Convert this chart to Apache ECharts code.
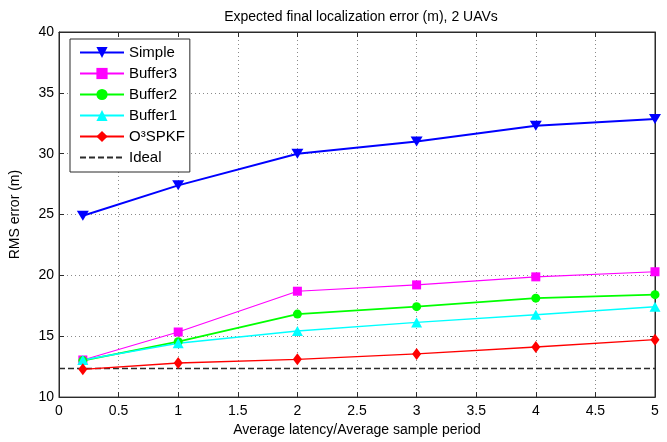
<!DOCTYPE html>
<html>
<head>
<meta charset="utf-8">
<script src="https://cdn.jsdelivr.net/npm/echarts@6/dist/echarts.min.js"></script>
<style>
  html, body { margin: 0; padding: 0; background: #fff; }
  #chart { width: 667px; height: 442px; }
</style>
</head>
<body>
<div id="chart"></div>
<script>
// Latency ratio on the x axis
const latencyRatio = [0.2, 1, 2, 3, 4, 5];

// RMS localization error (m) for each filter variant
const simpleErr  = [24.9, 27.4, 30.0, 31.0, 32.3, 32.85];
const buffer3Err = [13.05, 15.35, 18.7, 19.22, 19.88, 20.3];
const buffer2Err = [13.0, 14.55, 16.82, 17.43, 18.13, 18.42];
const buffer1Err = [13.05, 14.42, 15.43, 16.14, 16.77, 17.42];
const o3spkfErr  = [12.28, 12.8, 13.1, 13.55, 14.12, 14.72];

// Ideal reference level, drawn across the whole x range
const idealX = [0, 5];
const idealY = [12.35, 12.35];

const seriesNames = ['Simple', 'Buffer3', 'Buffer2', 'Buffer1', 'O\u00B3SPKF', 'Ideal'];

const pairs = (xs, ys) => xs.map((x, i) => [x, ys[i]]);

const FONT = 'Liberation Sans, Arial, Helvetica, sans-serif';
const AXIS_COLOR = '#2b2b2b';

const chart = echarts.init(document.getElementById('chart'), null, { renderer: 'canvas' });

function lineSeries(name, ys, color, symbol, size, width, extra) {
  return Object.assign({
    name: name,
    type: 'line',
    xAxisIndex: 0,
    yAxisIndex: 0,
    data: pairs(latencyRatio, ys),
    symbol: symbol,
    symbolSize: size,
    showSymbol: true,
    color: color,
    lineStyle: { color: color, width: width },
    itemStyle: { color: color, borderColor: color, borderWidth: 0 },
    emphasis: { disabled: true },
    z: 3
  }, extra || {});
}

const hiddenAxisPart = { show: false };

chart.setOption({
  animation: false,
  backgroundColor: '#ffffff',
  textStyle: { fontFamily: FONT },
  title: {
    text: 'Expected final localization error (m), 2 UAVs',
    left: 356,
    textAlign: 'center',
    top: 5,
    textStyle: { fontFamily: FONT, fontSize: 14, fontWeight: 'normal', color: '#000' }
  },
  grid: {
    left: 57, right: 12, top: 32, bottom: 40,
    show: true, borderColor: AXIS_COLOR, borderWidth: 1, backgroundColor: '#fff'
  },
  legend: {
    orient: 'vertical',
    left: 70, top: 39,
    padding: [6, 5, 7, 9],
    itemGap: 6,
    itemWidth: 44,
    itemHeight: 14,
    backgroundColor: '#fff',
    borderColor: AXIS_COLOR,
    borderWidth: 1,
    borderRadius: 0,
    data: seriesNames.map(n => n === 'Ideal'
      ? { name: n, itemStyle: { opacity: 0 } }
      : { name: n }),
    textStyle: { fontFamily: FONT, fontSize: 15, color: '#000' }
  },
  xAxis: [{
    type: 'value',
    min: 0, max: 5, interval: 0.5,
    name: 'Average latency/Average sample period',
    nameLocation: 'middle',
    nameGap: 23,
    nameTextStyle: { fontFamily: FONT, fontSize: 14, color: '#000' },
    axisLine: { show: true, onZero: false, lineStyle: { color: AXIS_COLOR, width: 1 } },
    axisTick: { show: true, inside: true, length: 5, lineStyle: { color: AXIS_COLOR } },
    axisLabel: { margin: 7, fontFamily: FONT, fontSize: 14, color: '#000' },
    splitLine: { show: true, lineStyle: { color: '#8a8a8a', type: [1, 3], width: 1 } }
  }, {
    type: 'value', position: 'top',
    min: 0, max: 5, interval: 0.5,
    axisLine: { show: true, onZero: false, lineStyle: { color: AXIS_COLOR, width: 1 } },
    axisTick: { show: true, inside: true, length: 5, lineStyle: { color: AXIS_COLOR } },
    axisLabel: hiddenAxisPart,
    splitLine: hiddenAxisPart
  }],
  yAxis: [{
    type: 'value',
    min: 10, max: 40, interval: 5,
    name: 'RMS error (m)',
    nameLocation: 'middle',
    nameGap: 37,
    nameTextStyle: { fontFamily: FONT, fontSize: 14, color: '#000' },
    axisLine: { show: true, onZero: false, lineStyle: { color: AXIS_COLOR, width: 1 } },
    axisTick: { show: true, inside: true, length: 5, lineStyle: { color: AXIS_COLOR } },
    axisLabel: { margin: 5, fontFamily: FONT, fontSize: 14, color: '#000' },
    splitLine: { show: true, lineStyle: { color: '#8a8a8a', type: [1, 3], width: 1 } }
  }, {
    type: 'value', position: 'right',
    min: 10, max: 40, interval: 5,
    axisLine: { show: true, onZero: false, lineStyle: { color: AXIS_COLOR, width: 1 } },
    axisTick: { show: true, inside: true, length: 5, lineStyle: { color: AXIS_COLOR } },
    axisLabel: hiddenAxisPart,
    splitLine: hiddenAxisPart
  }],
  series: [
    lineSeries(seriesNames[0], simpleErr, '#0000ff', 'triangle', [12, 10], 2, { symbolRotate: 180, z: 4 }),
    lineSeries(seriesNames[1], buffer3Err, '#ff00ff', 'rect', 9, 1.1),
    lineSeries(seriesNames[2], buffer2Err, '#00ff00', 'circle', 9, 1.8),
    lineSeries(seriesNames[3], buffer1Err, '#00ffff', 'triangle', [11, 10], 1.4),
    lineSeries(seriesNames[4], o3spkfErr, '#ff0000', 'diamond', [9, 12], 1.4),
    {
      name: seriesNames[5],
      type: 'line',
      data: pairs(idealX, idealY),
      symbol: 'none',
      color: '#2b2b2b',
      lineStyle: { color: '#2b2b2b', width: 1.6, type: [6, 3] },
      emphasis: { disabled: true },
      z: 2
    }
  ]
});
</script>
</body>
</html>
